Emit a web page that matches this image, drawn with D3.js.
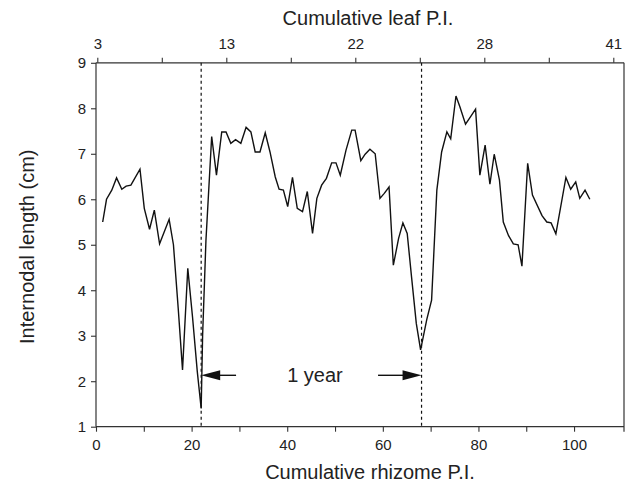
<!DOCTYPE html>
<html>
<head>
<meta charset="utf-8">
<script src="https://cdn.jsdelivr.net/npm/d3@7"></script>
<style>
  html, body { margin: 0; padding: 0; background: #fff; }
  svg { display: block; }
  text { font-family: "Liberation Sans", Arial, Helvetica, sans-serif; fill: #222; }
</style>
</head>
<body>
<svg id="chart" width="630" height="484"></svg>
<script>
// ---- data ----
const rhizomePI = [1.4, 2.2, 3.3, 4.3, 5.4, 6.3, 7.3, 9.2, 10.1, 11.2, 12.2, 13.3, 15.3, 16.2, 17.2, 18.1,
  19.2, 20.2, 21.2, 22.0, 22.3, 23.0, 24.2, 25.2, 26.3, 27.2, 28.2, 29.2, 30.3, 31.4, 32.4, 33.3, 34.3,
  35.4, 36.4, 37.5, 38.3, 39.2, 40.1, 41.1, 42.1, 43.2, 44.2, 45.3, 46.2, 47.2, 48.2, 49.3, 50.2, 51.1,
  52.3, 53.5, 54.2, 55.4, 56.3, 57.3, 58.4, 59.4, 60.3, 61.3, 62.2, 63.3, 64.2, 65.1, 66.0, 67.0, 67.9,
  69.2, 70.2, 71.3, 72.3, 73.4, 74.2, 75.3, 76.1, 77.3, 78.4, 79.4, 80.3, 81.4, 82.4, 83.3, 84.4, 85.2,
  86.3, 87.3, 88.3, 89.1, 90.3, 91.3, 93.3, 94.3, 95.2, 96.2, 98.3, 99.3, 100.35, 101.2, 102.3, 103.3];
const internodeLength = [5.5, 6.0, 6.2, 6.47, 6.22, 6.29, 6.31, 6.66, 5.8, 5.34, 5.76, 5.02, 5.56, 5.0, 3.6, 2.25,
  4.48, 3.4, 2.2, 1.4, 3.0, 5.1, 7.38, 6.53, 7.48, 7.48, 7.23, 7.31, 7.23, 7.58, 7.48, 7.04, 7.04,
  7.46, 7.04, 6.49, 6.22, 6.2, 5.84, 6.48, 5.8, 5.73, 6.17, 5.25, 6.02, 6.31, 6.46, 6.8, 6.8, 6.53,
  7.08, 7.52, 7.52, 6.85, 6.99, 7.1, 7.0, 6.02, 6.13, 6.27, 4.55, 5.14, 5.48, 5.25, 4.3, 3.27, 2.69,
  3.36, 3.78, 6.2, 7.04, 7.48, 7.33, 8.27, 8.04, 7.65, 7.82, 7.98, 6.53, 7.19, 6.33, 6.99, 6.42, 5.5,
  5.2, 5.02, 5.0, 4.53, 6.79, 6.09, 5.64, 5.5, 5.48, 5.24, 6.48, 6.22, 6.38, 6.02, 6.2, 6.0];
const bottomTicks = [0, 10, 20, 30, 40, 50, 60, 70, 80, 90, 100];
const bottomTickLabels = ["0", "", "20", "", "40", "", "60", "", "80", "", "100"];
const yTicks = [1, 2, 3, 4, 5, 6, 7, 8, 9];
const leafPITicks = [0, 1, 2, 3, 4, 5, 6, 7, 8];
const leafPILabels = ["3", "", "13", "", "22", "", "28", "", "41"];
const yearMarkers = [22.0, 68.1];
const arrowLevel = 2.13;
const arrowTails = [29.3, 59.0];
const yearLabel = "1 year";
const yearLabelX = 45.8;

// ---- layout ----
const svg = d3.select("#chart");
const L = 96, R = 624, T = 62.8, B = 426.7;
const x = d3.scaleLinear().domain([0, 110.45]).range([L, R]);
const xTop = d3.scaleLinear().domain([0, 8]).range([97.3, 613.3]);
const y = d3.scaleLinear().domain([1, 9]).range([B, T]);
const axisColor = "#333";

// frame
const frame = svg.append("g").attr("stroke", axisColor).attr("stroke-width", 1.2).attr("fill", "none");
frame.append("line").attr("x1", L).attr("x2", R).attr("y1", B).attr("y2", B);
frame.append("line").attr("x1", L).attr("x2", R).attr("y1", T).attr("y2", T);
frame.append("line").attr("x1", L).attr("x2", L).attr("y1", T).attr("y2", B);
frame.append("line").attr("x1", R).attr("x2", R).attr("y1", T).attr("y2", B + 5);

function styleAxis(g) {
  g.select(".domain").remove();
  g.selectAll(".tick line").attr("stroke", axisColor).attr("stroke-width", 1.1);
  g.selectAll(".tick text").style("font-size", "15px").attr("fill", "#222");
}

svg.append("g").attr("transform", `translate(0,${B})`)
  .call(d3.axisBottom(x).tickValues(bottomTicks).tickSize(5).tickPadding(8)
    .tickFormat((d, i) => bottomTickLabels[i]))
  .call(styleAxis);

svg.append("g").attr("transform", `translate(0,${T})`)
  .call(d3.axisTop(xTop).tickValues(leafPITicks).tickSize(5).tickPadding(9)
    .tickFormat((d, i) => leafPILabels[i]))
  .call(styleAxis);

svg.append("g").attr("transform", `translate(${L},0)`)
  .call(d3.axisLeft(y).tickValues(yTicks).tickSize(5).tickPadding(5).tickFormat(d3.format("d")))
  .call(styleAxis);

// axis titles
svg.append("text").attr("x", 368).attr("y", 25).attr("text-anchor", "middle")
  .style("font-size", "20px").text("Cumulative leaf P.I.");
svg.append("text").attr("x", 370).attr("y", 479).attr("text-anchor", "middle")
  .style("font-size", "20px").text("Cumulative rhizome P.I.");
svg.append("text").attr("transform", `translate(34,${(T + B) / 2 + 2}) rotate(-90)`)
  .attr("text-anchor", "middle").style("font-size", "20px").text("Internodal length (cm)");

// dashed year markers
svg.append("g").selectAll("line").data(yearMarkers).join("line")
  .attr("x1", d => x(d)).attr("x2", d => x(d))
  .attr("y1", T).attr("y2", B)
  .attr("stroke", "#111").attr("stroke-width", 1.2).attr("stroke-dasharray", "3,3");

// data line
const line = d3.line().x(d => x(d[0])).y(d => y(d[1]));
const pts = rhizomePI.map((v, i) => [v, internodeLength[i]]);
svg.append("path").datum(pts).attr("d", line)
  .attr("fill", "none").attr("stroke", "#111").attr("stroke-width", 1.4)
  .attr("stroke-linejoin", "miter");

// arrows
const ay = y(arrowLevel);
yearMarkers.forEach((m, i) => {
  const tip = x(m), tail = x(arrowTails[i]);
  const dir = tail > tip ? 1 : -1;
  const headLen = 19, half = 5;
  svg.append("line").attr("x1", tip + dir * headLen * 0.8).attr("x2", tail)
    .attr("y1", ay).attr("y2", ay).attr("stroke", "#111").attr("stroke-width", 1.4);
  svg.append("path")
    .attr("d", `M${tip},${ay} L${tip + dir * headLen},${ay - half} L${tip + dir * headLen},${ay + half} Z`)
    .attr("fill", "#111");
});
svg.append("text").attr("x", x(yearLabelX)).attr("y", ay + 7).attr("text-anchor", "middle")
  .style("font-size", "20px").text(yearLabel);
</script>
</body>
</html>
